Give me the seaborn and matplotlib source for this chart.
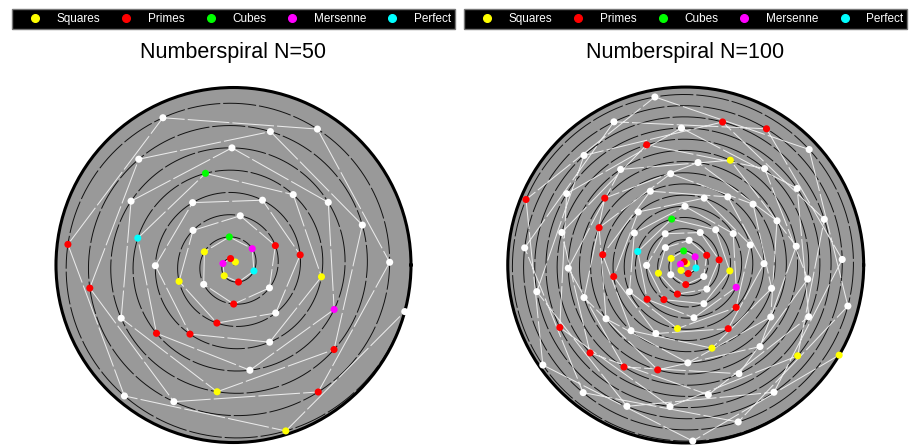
import numpy as np
import pandas as pd
import matplotlib
matplotlib.use("Agg")
import matplotlib.pyplot as plt
from matplotlib.lines import Line2D
import seaborn as sns

# panel sizes (how many integers are placed on each spiral)
sizes = [50, 100]
numbers = list(range(1, 101))

# special number families up to 100
squares = [1, 4, 9, 16, 25, 36, 49, 64, 81, 100]
primes = [2, 3, 5, 7, 11, 13, 17, 19, 23, 29, 31, 37, 41, 43, 47,
          53, 59, 61, 67, 71, 73, 79, 83, 89, 97]
cubes = [1, 8, 27, 64]
mersenne = [3, 7, 31]
perfect = [6, 28]

categories = ["Squares", "Primes", "Cubes", "Mersenne", "Perfect"]
cat_colors = ["#FFFF00", "#FF0000", "#00FF00", "#FF00FF", "#00FFFF"]
palette = dict(zip(categories, cat_colors))
palette["Other"] = "#FFFFFF"


def family(n):
    # later families win when a number belongs to several
    if n in perfect:
        return "Perfect"
    if n in mersenne:
        return "Mersenne"
    if n in squares:
        return "Squares"
    if n in cubes:
        return "Cubes"
    if n in primes:
        return "Primes"
    return "Other"


sns.set_theme(style="white")
plt.rcParams["font.family"] = ["Liberation Sans", "DejaVu Sans"]

fig = plt.figure(figsize=(9.16, 4.46), dpi=100)

ax_pos = [[0.0611, 0.0078, 0.3876, 0.796], [0.5543, 0.0068, 0.3886, 0.798]]
title_x = [0.254, 0.748]
legend_x = [0.0131, 0.5066]

handles = [Line2D([], [], marker="o", ls="", color=c, markersize=5.5) for c in cat_colors]

for N, pos, tx, lx in zip(sizes, ax_pos, title_x, legend_x):
    df = pd.DataFrame({"n": numbers[:N]})
    df["theta"] = df["n"]   # angle in radians
    df["r"] = df["n"]       # distance from centre
    df["family"] = df["n"].map(family)

    ax = fig.add_axes(pos, projection="polar")
    ax.set_facecolor("#999999")

    # guide spiral r = theta
    t = np.linspace(0, N, 5000)
    ax.plot(t, t, color="#111111", lw=0.7, dashes=(34, 3), zorder=1)

    # consecutive numbers joined by straight chords
    sns.lineplot(data=df, x="theta", y="r", sort=False, estimator=None,
                 color="white", lw=0.75, alpha=0.8, ax=ax, zorder=2)
    for ln in ax.lines[1:]:
        ln.set_dashes((40, 3))

    sns.scatterplot(data=df, x="theta", y="r", hue="family", palette=palette,
                    s=26, linewidth=0, legend=False, ax=ax, zorder=4, clip_on=False)

    ax.set_ylim(0, N)
    ax.set_xticks([])
    ax.set_yticks([])
    ax.grid(False)
    ax.set_xlabel("")
    ax.set_ylabel("")
    ax.spines["polar"].set_linewidth(2.2)
    ax.spines["polar"].set_color("black")

    fig.text(tx, 0.883, f"Numberspiral N={N}", ha="center", va="center",
             fontsize=15.5, color="black")

    fig.legend(handles, categories, loc="center",
               bbox_to_anchor=(lx, 0.935, 0.4836, 0.0448), mode="expand", ncol=5,
               fontsize=8.5, labelcolor="white", facecolor="black", edgecolor="#777777",
               framealpha=1, fancybox=False, borderpad=0.35, handlelength=3.2,
               handletextpad=0.2, borderaxespad=0)

fig.savefig("out.png", dpi=100)
